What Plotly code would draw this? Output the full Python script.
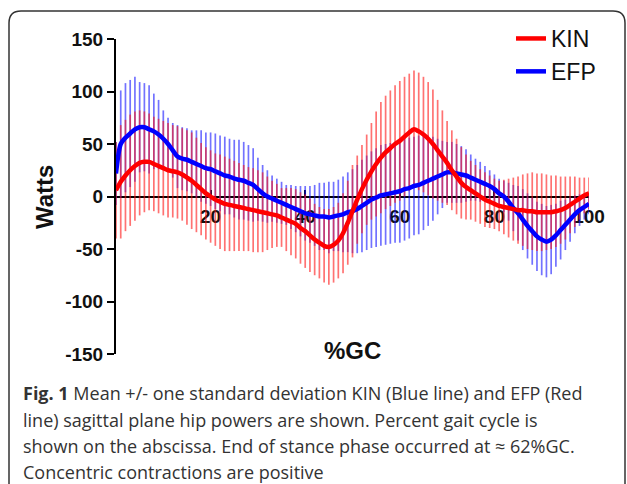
import plotly.graph_objects as go

# ---------------- data ----------------
gait_pct = list(range(0, 101))

kin_mean = [6, 14, 20, 25, 29, 32, 33, 33, 31, 29,
            27, 25, 24, 23, 21, 18, 15, 11, 7, 3,
            0, -3, -5, -7, -8, -9, -10, -11, -12, -13,
            -14, -15, -16, -17, -18, -20, -22, -24, -26, -30,
            -33, -37, -41, -44, -47, -48, -46, -42, -35, -25,
            -14, -3, 7, 16, 24, 31, 37, 42, 46, 50,
            53, 57, 61, 64, 62, 59, 55, 50, 44, 38,
            32, 25, 19, 13, 9, 6, 3, 0, -3, -5,
            -7, -9, -10, -11, -12, -13, -13, -14, -14, -15,
            -15, -15, -15, -14, -13, -11, -8, -5, -2, 1,
            3]

kin_sd = [46, 54, 53, 53, 52, 50, 48, 46, 45, 45,
          45, 45, 44, 44, 44, 45, 46, 45, 44, 44,
          44, 44, 45, 45, 44, 43, 42, 41, 40, 40,
          39, 38, 35, 32, 30, 28, 30, 32, 33, 34,
          35, 35, 34, 34, 35, 36, 36, 36, 38, 40,
          44, 42, 42, 43, 46, 50, 53, 54, 55, 56,
          57, 57, 56, 56, 56, 55, 54, 52, 48, 44,
          40, 38, 36, 34, 31, 28, 27, 26, 26, 25,
          24, 24, 26, 28, 30, 32, 34, 36, 37, 37,
          37, 36, 35, 34, 32, 30, 27, 24, 20, 17,
          15]

efp_mean = [22, 50, 56, 60, 64, 66, 66, 64, 62, 59,
            55, 50, 44, 38, 36, 35, 33, 31, 29, 27,
            26, 24, 22, 20, 19, 17, 16, 15, 13, 11,
            7, 3, 0, -2, -4, -6, -8, -10, -12, -14,
            -16, -17, -18, -19, -19, -20, -19, -18, -17, -15,
            -14, -12, -9, -6, -3, -1, 1, 2, 3, 4,
            5, 7, 8, 10, 11, 13, 15, 17, 19, 21,
            23, 23, 22, 21, 20, 18, 16, 14, 12, 10,
            7, 3, 0, -5, -11, -16, -22, -28, -33, -38,
            -41, -43, -41, -37, -32, -27, -22, -17, -13, -10,
            -7]

efp_sd = [30, 51, 52, 51, 50, 43, 42, 42, 36, 33,
          27, 25, 26, 30, 30, 30, 30, 32, 34, 34,
          35, 36, 36, 37, 36, 37, 38, 37, 36, 35,
          30, 27, 25, 22, 21, 20, 19, 21, 22, 24,
          26, 27, 29, 32, 32, 34, 33, 34, 36, 38,
          40, 42, 44, 45, 46, 47, 48, 48, 48, 48,
          49, 49, 48, 47, 47, 45, 43, 40, 36, 32,
          29, 29, 28, 27, 25, 22, 20, 19, 17, 15,
          14, 14, 15, 18, 22, 26, 29, 31, 32, 33,
          34, 34, 33, 30, 28, 24, 21, 18, 15, 12,
          10]

series_names = ["KIN", "EFP"]
x_ticks = [20, 40, 60, 80, 100]
y_ticks = [-150, -100, -50, 0, 50, 100, 150]

caption_lines = [
    "<b>Fig. 1</b> Mean +/- one standard deviation KIN (Blue line) and EFP (Red",
    "line) sagittal plane hip powers are shown. Percent gait cycle is",
    "shown on the abscissa. End of stance phase occurred at \u2248 62%GC.",
    "Concentric contractions are positive",
]

# ---------------- layout geometry (pixels) ----------------
W, H = 627, 484
ML, MR, MT, MB = 116, 38, 39, 130
PW, PH = W - ML - MR, H - MT - MB


def px(xp):
    return (xp - ML) / PW


def py(yp):
    return (H - MB - yp) / PH


RED = "#ff0000"
BLUE = "#0000ff"
RED_BAR = "rgba(255,20,20,0.6)"
BLUE_BAR = "rgba(20,20,255,0.6)"
FONT = "Liberation Sans"

fig = go.Figure()

# error bars (SD) drawn first
fig.add_trace(go.Scatter(
    x=gait_pct, y=efp_mean, mode="markers", showlegend=False, hoverinfo="skip",
    marker=dict(size=1, color="rgba(0,0,0,0)"),
    error_y=dict(type="data", array=efp_sd, visible=True, color=BLUE_BAR,
                 thickness=1.7, width=0)))
fig.add_trace(go.Scatter(
    x=gait_pct, y=kin_mean, mode="markers", showlegend=False, hoverinfo="skip",
    marker=dict(size=1, color="rgba(0,0,0,0)"),
    error_y=dict(type="data", array=kin_sd, visible=True, color=RED_BAR,
                 thickness=1.7, width=0)))

# mean lines
fig.add_trace(go.Scatter(
    x=gait_pct, y=efp_mean, mode="lines", name=series_names[1],
    line=dict(color=BLUE, width=4.5, shape="spline", smoothing=0.8)))
fig.add_trace(go.Scatter(
    x=gait_pct, y=kin_mean, mode="lines", name=series_names[0],
    line=dict(color=RED, width=4.5, shape="spline", smoothing=0.8)))

# rounded border (open at the bottom)
x0, x1, y0, yb, r = 9, 625, 11, 486, 12
border = (f"M {px(x0)},{py(yb)} L {px(x0)},{py(y0 + r)} "
          f"Q {px(x0)},{py(y0)} {px(x0 + r)},{py(y0)} "
          f"L {px(x1 - r)},{py(y0)} "
          f"Q {px(x1)},{py(y0)} {px(x1)},{py(y0 + r)} "
          f"L {px(x1)},{py(yb)}")
shapes = [dict(type="path", path=border, xref="paper", yref="paper",
               line=dict(color="#333333", width=1.5), layer="above")]

annotations = [
    dict(text="<b>Watts</b>", x=px(44), y=py(197), xref="paper", yref="paper",
         textangle=-90, showarrow=False, xanchor="center", yanchor="middle",
         font=dict(family=FONT, size=24, color="#111111")),
    dict(text="<b>%GC</b>", x=px(352), y=py(350), xref="paper", yref="paper",
         showarrow=False, xanchor="center", yanchor="middle",
         font=dict(family=FONT, size=24, color="#111111")),
]
cap_y = [393, 420, 446, 472]
for line, yy in zip(caption_lines, cap_y):
    annotations.append(dict(
        text=line, x=px(21), y=py(yy), xref="paper", yref="paper",
        showarrow=False, xanchor="left", yanchor="middle", align="left",
        font=dict(family="Open Sans", size=18, color="#333333")))

fig.update_layout(
    width=W, height=H,
    margin=dict(l=ML, r=MR, t=MT, b=MB),
    paper_bgcolor="white", plot_bgcolor="white",
    showlegend=True,
    legend=dict(x=px(511), y=py(17), xanchor="left", yanchor="top",
                traceorder="reversed", bgcolor="rgba(0,0,0,0)",
                font=dict(family=FONT, size=23, color="#111111")),
    xaxis=dict(range=[0, 100], tickvals=x_ticks, ticktext=[str(t) for t in x_ticks],
               showgrid=False, zeroline=False, showline=True, linecolor="black",
               linewidth=2, ticks="inside", ticklen=6, tickwidth=2, tickcolor="black",
               anchor="free", position=0.5, ticklabelstandoff=3,
               tickfont=dict(family=FONT, size=19, color="#111111", weight="bold"),
               layer="below traces"),
    yaxis=dict(range=[-150, 150], tickvals=y_ticks, ticktext=[str(t) for t in y_ticks],
               showgrid=False, zeroline=False, showline=True, linecolor="black",
               linewidth=2, ticks="outside", ticklen=7, tickwidth=2, tickcolor="black",
               tickfont=dict(family=FONT, size=19, color="#111111", weight="bold")),
    shapes=shapes,
    annotations=annotations,
)

fig.write_html("out.html")
